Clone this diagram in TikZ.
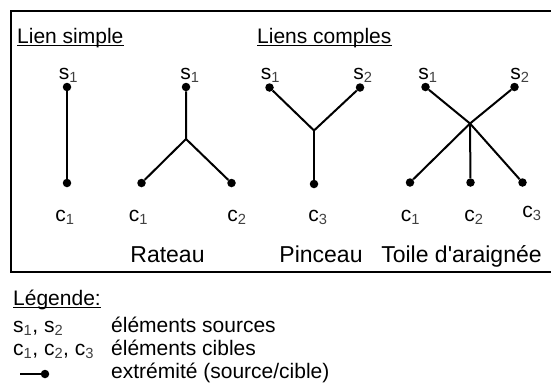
\documentclass[tikz,border=0pt]{standalone}
\usepackage{fontspec}
\setmainfont{Liberation Sans}
\usepackage{tikz}
\usetikzlibrary{calc}
\definecolor{MyBlack}{rgb}{0,0,0}
\definecolor{MySubGrey}{rgb}{0.25,0.25,0.25}
\newcommand{\ix}[2]{#1\textsubscript{\textcolor{MySubGrey}{#2}}}

\begin{document}
\begin{tikzpicture}[x=1pt,y=-1pt]
       \tikzstyle{every node}=[font=\fontsize{21}{25}\selectfont, inner sep=0pt, text=MyBlack]
       \tikzstyle{dot}=[circle, fill=MyBlack, minimum size=8.5pt]
       \tikzstyle{link}=[draw=MyBlack, line width=2pt]
       \tikzstyle{lbl}=[anchor=base]
       \tikzstyle{title}=[anchor=base, font=\fontsize{23}{27}\selectfont]
       \tikzstyle{head}=[anchor=base west]
        \useasboundingbox (0,0) rectangle (551,386);
        \draw[draw=MyBlack, line width=2pt] (11,11) rectangle (562,272);
        % titres
        \node[head] (tsimple) at (17,43) {Lien simple};
        \node[head] (tcomplexe) at (257,43) {Liens comples};
        \draw[line width=1.5pt] ([yshift=-2.5pt]tsimple.base west) -- ([yshift=-2.5pt]tsimple.base east);
        \draw[line width=1.5pt] ([yshift=-2.5pt]tcomplexe.base west) -- ([yshift=-2.5pt]tcomplexe.base east);
        % lien simple
        \node[dot] (ls-s1) at (67,87) {};
        \node[dot] (ls-c1) at (67,183) {};
        \draw[link] (ls-s1) -- (ls-c1);
        \node[lbl] at (68.5,79) {\ix{s}{1}};
        \node[lbl] at (65,221) {\ix{c}{1}};
        % rateau
        \node[dot] (ra-s1) at (186,87) {};
        \coordinate (ra-hub) at (186,139);
        \node[dot] (ra-c1) at (141.5,183) {};
        \node[dot] (ra-c2) at (231.5,183) {};
        \draw[link] (ra-s1) -- (ra-hub) -- (ra-c1);
        \draw[link] (ra-hub) -- (ra-c2);
        \node[lbl] at (190,79) {\ix{s}{1}};
        \node[lbl] at (138.5,221) {\ix{c}{1}};
        \node[lbl] at (237,221) {\ix{c}{2}};
        \node[title] at (167.5,262) {Rateau};
        % pinceau
        \node[dot] (pi-s1) at (269.5,87.5) {};
        \node[dot] (pi-s2) at (360,87.5) {};
        \coordinate (pi-hub) at (314,130.5);
        \node[dot] (pi-c3) at (314,184) {};
        \draw[link] (pi-s1) -- (pi-hub) -- (pi-s2);
        \draw[link] (pi-hub) -- (pi-c3);
        \node[lbl] at (270.5,79) {\ix{s}{1}};
        \node[lbl] at (363,79) {\ix{s}{2}};
        \node[lbl] at (318,221) {\ix{c}{3}};
        \node[title] at (321,262) {Pinceau};
        % toile d'araignee
        \node[dot] (to-s1) at (425.5,87) {};
        \node[dot] (to-s2) at (514.5,87) {};
        \coordinate (to-hub) at (470,123.5);
        \node[dot] (to-c1) at (410,182.5) {};
        \node[dot] (to-c2) at (470.5,182.5) {};
        \node[dot] (to-c3) at (522.5,182.5) {};
        \draw[link] (to-s1) -- (to-hub) -- (to-c3);
        \draw[link] (to-s2) -- (to-hub) -- (to-c1);
        \draw[link] (to-hub) -- (to-c2);
        \node[lbl] at (428,79) {\ix{s}{1}};
        \node[lbl] at (520,79) {\ix{s}{2}};
        \node[lbl] at (410.5,221) {\ix{c}{1}};
        \node[lbl] at (474,221) {\ix{c}{2}};
        \node[lbl] at (532,217) {\ix{c}{3}};
        \node[title] at (461.5,262) {Toile d\textquotesingle araignée};
        % legende
        \node[head] (tlegende) at (13,305) {Légende:};
        \draw[line width=1.5pt] ([yshift=-2.5pt]tlegende.base west) -- ([yshift=-2.5pt]tlegende.base east);
        \node[head] at (13,332) {\ix{s}{1}, \ix{s}{2}};
        \node[head] at (111,332) {éléments sources};
        \node[head] at (13,355) {\ix{c}{1}, \ix{c}{2}, \ix{c}{3}};
        \node[head] at (111,355) {éléments cibles};
        \coordinate (lg-a) at (20,374);
        \node[dot] (lg-b) at (45,374) {};
        \draw[link] (lg-a) -- (lg-b);
        \node[head] at (111,378) {extrémité (source/cible)};
      \end{tikzpicture}
\end{document}
